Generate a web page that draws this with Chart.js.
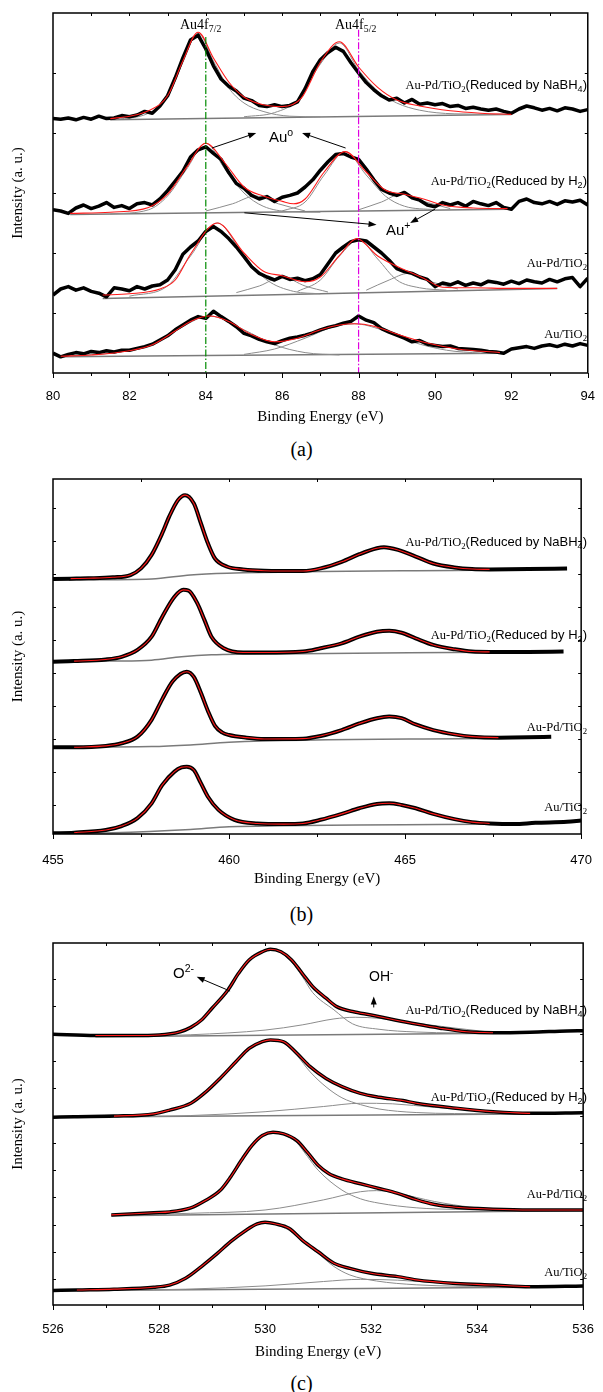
<!DOCTYPE html>
<html lang="en">
<head>
    <meta charset="UTF-8">
    <title>XPS spectra Au 4f, Ti 2p, O 1s</title>
    <script src="https://cdn.jsdelivr.net/npm/chart.js"></script>
    <style>
        body {
            margin: 0;
            background: #fff;
            width: 603px;
            height: 1392px;
            position: relative;
            overflow: hidden;
        }
        .panel { position: absolute; left: 0; width: 603px; }
        .note { position: absolute; white-space: nowrap; color: #000; line-height: 1; }
        .serif { font-family: "Liberation Serif", "DejaVu Serif", serif; }
        .sans { font-family: "Liberation Sans", Arial, sans-serif; }
        .samp { right: 16px; }
        .samp .serif { font-size: 12.5px; }
        .samp .sans { font-size: 13px; }
        sub { font-size: 70%; vertical-align: -0.35em; line-height: 0; }
        sup { font-size: 70%; vertical-align: 0.55em; line-height: 0; }
        .tag { font-size: 20px; width: 603px; left: 0; text-align: center; }
    </style>
</head>
<body>
    <div class="panel" style="top:0;height:430px"><canvas id="chartA"></canvas></div>
    <div class="panel" style="top:466px;height:425px"><canvas id="chartB"></canvas></div>
    <div class="panel" style="top:930px;height:432px"><canvas id="chartC"></canvas></div>

    <!-- panel (a) notes -->
    <div class="note serif" style="left:180px;top:18px;font-size:14px">Au4f<sub>7/2</sub></div>
    <div class="note serif" style="left:335px;top:18px;font-size:14px">Au4f<sub>5/2</sub></div>
    <div class="note sans" style="left:269px;top:129px;font-size:15px">Au<sup>o</sup></div>
    <div class="note sans" style="left:386px;top:222px;font-size:15px">Au<sup>+</sup></div>
    <div class="note samp" style="top:76px"><span class="serif">Au-Pd/TiO<sub>2</sub></span><span class="sans">(Reduced by NaBH<sub>4</sub>)</span></div>
    <div class="note samp" style="top:172px"><span class="serif">Au-Pd/TiO<sub>2</sub></span><span class="sans">(Reduced by H<sub>2</sub>)</span></div>
    <div class="note samp" style="top:254px"><span class="serif">Au-Pd/TiO<sub>2</sub></span></div>
    <div class="note samp" style="top:325px"><span class="serif">Au/TiO<sub>2</sub></span></div>
    <div class="note serif tag" style="top:439px">(a)</div>

    <!-- panel (b) notes -->
    <div class="note samp" style="top:533px"><span class="serif">Au-Pd/TiO<sub>2</sub></span><span class="sans">(Reduced by NaBH<sub>4</sub>)</span></div>
    <div class="note samp" style="top:626px"><span class="serif">Au-Pd/TiO<sub>2</sub></span><span class="sans">(Reduced by H<sub>2</sub>)</span></div>
    <div class="note samp" style="top:718px"><span class="serif">Au-Pd/TiO<sub>2</sub></span></div>
    <div class="note samp" style="top:798px"><span class="serif">Au/TiO<sub>2</sub></span></div>
    <div class="note serif tag" style="top:904px">(b)</div>

    <!-- panel (c) notes -->
    <div class="note sans" style="left:173px;top:965px;font-size:15px">O<sup>2-</sup></div>
    <div class="note sans" style="left:369px;top:969px;font-size:14px">OH<sup>-</sup></div>
    <div class="note samp" style="top:1001px"><span class="serif">Au-Pd/TiO<sub>2</sub></span><span class="sans">(Reduced by NaBH<sub>4</sub>)</span></div>
    <div class="note samp" style="top:1088px"><span class="serif">Au-Pd/TiO<sub>2</sub></span><span class="sans">(Reduced by H<sub>2</sub>)</span></div>
    <div class="note samp" style="top:1185px"><span class="serif">Au-Pd/TiO<sub>2</sub></span></div>
    <div class="note samp" style="top:1263px"><span class="serif">Au/TiO<sub>2</sub></span></div>
    <div class="note serif tag" style="top:1373px">(c)</div>

    <script>
        // ---------- (a) Au 4f : raw spectra on a common energy grid ----------
        const aEnergy = [80.0, 80.2, 80.4, 80.6, 80.8, 81.0, 81.2, 81.4, 81.6, 81.8,
            82.0, 82.2, 82.4, 82.6, 82.8, 83.0, 83.2, 83.4, 83.6, 83.8,
            84.0, 84.2, 84.4, 84.6, 84.8, 85.0, 85.2, 85.4, 85.6, 85.8,
            86.0, 86.2, 86.4, 86.6, 86.8, 87.0, 87.2, 87.4, 87.6, 87.8,
            88.0, 88.2, 88.4, 88.6, 88.8, 89.0, 89.2, 89.4, 89.6, 89.8,
            90.0, 90.2, 90.4, 90.6, 90.8, 91.0, 91.2, 91.4, 91.6, 91.8,
            92.0, 92.2, 92.4, 92.6, 92.8, 93.0, 93.2, 93.4, 93.6, 93.8, 94.0];
        const aNaBH4 = [4.24, 4.23, 4.25, 4.22, 4.26, 4.23, 4.28, 4.24, 4.25, 4.29,
            4.27, 4.30, 4.36, 4.33, 4.45, 4.62, 4.92, 5.25, 5.55, 5.63,
            5.40, 5.12, 4.90, 4.78, 4.70, 4.58, 4.54, 4.46, 4.44, 4.47,
            4.44, 4.46, 4.52, 4.74, 5.02, 5.22, 5.34, 5.43, 5.36, 5.17,
            5.00, 4.84, 4.72, 4.62, 4.55, 4.58, 4.50, 4.56, 4.48, 4.50,
            4.47, 4.49, 4.44, 4.46, 4.41, 4.43, 4.40, 4.38, 4.40, 4.36,
            4.33, 4.40, 4.45, 4.42, 4.38, 4.41, 4.37, 4.42, 4.40, 4.36, 4.39];
        const aH2 = [2.72, 2.70, 2.66, 2.75, 2.80, 2.74, 2.78, 2.84, 2.76, 2.79,
            2.74, 2.82, 2.84, 2.80, 2.90, 3.04, 3.20, 3.36, 3.60, 3.72,
            3.77, 3.66, 3.56, 3.34, 3.16, 3.08, 2.96, 2.90, 2.94, 2.86,
            2.93, 2.96, 3.00, 3.10, 3.22, 3.38, 3.52, 3.64, 3.66, 3.60,
            3.56, 3.40, 3.22, 3.06, 3.00, 2.96, 3.01, 2.92, 2.88, 2.80,
            2.77, 2.84, 2.80, 2.84, 2.78, 2.86, 2.82, 2.79, 2.84, 2.76,
            2.73, 2.86, 2.90, 2.84, 2.82, 2.86, 2.81, 2.87, 2.85, 2.88, 2.80];
        const aAuPd = [1.30, 1.40, 1.44, 1.38, 1.42, 1.36, 1.33, 1.27, 1.42, 1.40,
            1.37, 1.44, 1.40, 1.45, 1.47, 1.55, 1.72, 1.98, 2.10, 2.20,
            2.36, 2.44, 2.36, 2.24, 2.10, 1.94, 1.77, 1.66, 1.60, 1.55,
            1.61, 1.56, 1.58, 1.54, 1.57, 1.64, 1.82, 2.00, 2.10, 2.19,
            2.22, 2.20, 2.10, 2.00, 1.88, 1.74, 1.69, 1.66, 1.60, 1.56,
            1.44, 1.50, 1.47, 1.52, 1.46, 1.50, 1.47, 1.53, 1.51, 1.48,
            1.53, 1.49, 1.55, 1.52, 1.50, 1.56, 1.52, 1.57, 1.59, 1.44, 1.58];
        const aAu = [0.33, 0.27, 0.31, 0.34, 0.32, 0.36, 0.34, 0.37, 0.35, 0.38,
            0.38, 0.41, 0.44, 0.48, 0.55, 0.62, 0.72, 0.80, 0.88, 0.94,
            0.91, 1.03, 0.94, 0.86, 0.77, 0.66, 0.62, 0.56, 0.52, 0.49,
            0.54, 0.58, 0.60, 0.63, 0.67, 0.72, 0.76, 0.79, 0.83, 0.86,
            0.95, 0.88, 0.84, 0.74, 0.68, 0.63, 0.58, 0.52, 0.54, 0.48,
            0.46, 0.44, 0.45, 0.41, 0.40, 0.39, 0.38, 0.36, 0.35, 0.33,
            0.40, 0.42, 0.44, 0.41, 0.45, 0.47, 0.44, 0.48, 0.45, 0.49, 0.46];

        // (a) fitted envelopes [eV, intensity]
        const aFitNaBH4 = [[81.5, 4.24], [82.0, 4.28], [82.5, 4.37], [83.0, 4.62], [83.4, 5.20], [83.8, 5.68],
            [84.2, 5.25], [84.6, 4.85], [85.0, 4.60], [85.5, 4.47], [86.0, 4.44], [86.5, 4.58], [87.0, 5.18],
            [87.5, 5.52], [88.0, 5.10], [88.5, 4.76], [89.0, 4.55], [89.6, 4.45], [90.4, 4.37], [91.2, 4.33], [92.0, 4.31]];
        const aFitH2 = [[80.45, 2.66], [81.5, 2.68], [82.5, 2.76], [83.0, 2.98], [83.5, 3.43], [84.0, 3.83],
            [84.5, 3.50], [85.0, 3.10], [85.5, 2.95], [86.0, 2.86], [86.3, 2.82], [86.6, 2.90], [87.1, 3.35],
            [87.65, 3.69], [88.2, 3.35], [88.7, 3.05], [89.2, 2.98], [89.7, 2.90], [90.2, 2.80], [91.0, 2.75], [91.9, 2.74]];
        const aFitAuPd = [[81.3, 1.30], [82.0, 1.32], [82.8, 1.40], [83.2, 1.55], [83.6, 1.98], [84.3, 2.50],
            [85.0, 2.00], [85.5, 1.70], [86.0, 1.62], [86.6, 1.52], [87.0, 1.60], [87.5, 1.96], [87.95, 2.24],
            [88.5, 1.95], [89.2, 1.72], [89.7, 1.58], [90.2, 1.43], [91.0, 1.42], [92.0, 1.41], [93.2, 1.41]];
        const aFitAu = [[80.2, 0.28], [81.0, 0.30], [82.0, 0.37], [82.6, 0.47], [83.2, 0.70], [83.6, 0.86],
            [84.1, 0.95], [84.6, 0.86], [85.2, 0.64], [85.8, 0.52], [86.4, 0.58], [87.0, 0.72], [87.5, 0.80],
            [87.9, 0.82], [88.4, 0.78], [89.0, 0.65], [89.8, 0.50], [90.6, 0.40], [91.7, 0.34]];

        // (a) component peaks
        const aCompNaBH4 = [
            [[81.5, 4.22], [82.5, 4.33], [83.0, 4.60], [83.4, 5.18], [83.8, 5.66], [84.2, 5.20], [84.6, 4.75],
             [85.0, 4.50], [85.5, 4.36], [86.2, 4.28], [87.0, 4.27]],
            [[85.0, 4.27], [85.8, 4.34], [86.4, 4.55], [87.0, 5.15], [87.5, 5.50], [88.0, 5.05], [88.5, 4.70],
             [89.0, 4.50], [89.6, 4.38], [90.5, 4.32], [92.0, 4.31]]
        ];
        const aCompH2 = [
            [[81.5, 2.65], [82.5, 2.72], [83.0, 2.95], [83.5, 3.40], [84.0, 3.83], [84.5, 3.40], [85.0, 3.00],
             [85.5, 2.78], [86.2, 2.69], [87.0, 2.68]],
            [[84.0, 2.70], [84.7, 2.82], [85.3, 2.95], [85.9, 2.82], [86.6, 2.70]],
            [[86.0, 2.70], [86.6, 2.85], [87.1, 3.30], [87.65, 3.69], [88.2, 3.30], [88.7, 2.95], [89.2, 2.78], [90.0, 2.72]],
            [[88.0, 2.72], [88.6, 2.85], [89.1, 2.98], [89.7, 2.86], [90.4, 2.74]]
        ];
        const aCompAuPd = [
            [[82.0, 1.28], [83.0, 1.45], [83.6, 1.95], [84.3, 2.50], [85.0, 1.95], [85.6, 1.55], [86.3, 1.36], [87.0, 1.32]],
            [[84.8, 1.34], [85.4, 1.45], [86.0, 1.60], [86.6, 1.45], [87.2, 1.35]],
            [[86.4, 1.36], [87.0, 1.55], [87.5, 1.95], [88.0, 2.22], [88.5, 1.90], [89.0, 1.55], [89.6, 1.42], [90.3, 1.38]],
            [[88.2, 1.38], [88.8, 1.55], [89.3, 1.66], [89.9, 1.52], [90.6, 1.40]]
        ];
        const aCompAu = [
            [[80.5, 0.29], [81.5, 0.33], [82.5, 0.45], [83.2, 0.70], [84.1, 0.95], [85.0, 0.72], [85.8, 0.47], [86.6, 0.34], [87.5, 0.30]],
            [[85.0, 0.31], [85.8, 0.40], [86.6, 0.58], [87.3, 0.76], [87.9, 0.82], [88.6, 0.72], [89.4, 0.52], [90.3, 0.38], [91.2, 0.33]]
        ];
        const aBaseNaBH4 = [[81.5, 4.22], [92.0, 4.31]];
        const aBaseH2 = [[80.45, 2.64], [91.9, 2.73]];
        const aBaseAuPd = [[81.3, 1.24], [93.2, 1.41]];
        const aBaseAu = [[80.2, 0.27], [91.7, 0.33]];
        const aMarkerE = [84, 88];
        const aArrows = [[84.16, 3.75, 85.32, 4.0], [87.66, 3.75, 86.52, 4.0], [85.01, 2.67, 88.47, 2.47], [90.0, 2.73, 89.35, 2.5]];

        // ---------- (b) Ti 2p [eV, intensity] ----------
        const bNaBH4 = [[455.0, 7.85], [455.5, 7.86], [456.0, 7.87], [456.7, 7.90], [457.2, 7.97], [457.5, 8.17],
            [457.8, 8.58], [458.1, 9.23], [458.3, 9.74], [458.55, 10.24], [458.75, 10.39], [459.0, 10.14],
            [459.2, 9.54], [459.4, 8.93], [459.6, 8.47], [459.95, 8.22], [460.4, 8.14], [461.0, 8.10],
            [462.1, 8.09], [462.6, 8.17], [463.2, 8.37], [463.7, 8.60], [464.2, 8.78], [464.4, 8.81],
            [464.8, 8.73], [465.3, 8.53], [465.8, 8.32], [466.4, 8.20], [466.9, 8.15], [467.4, 8.14],
            [468.5, 8.15], [469.6, 8.17]];
        const bH2 = [[455.0, 5.34], [455.6, 5.36], [456.5, 5.41], [456.95, 5.49], [457.4, 5.70], [457.8, 6.10],
            [458.1, 6.70], [458.45, 7.31], [458.7, 7.52], [458.85, 7.50], [459.1, 7.11], [459.3, 6.61],
            [459.5, 6.10], [459.85, 5.75], [460.4, 5.62], [461.0, 5.62], [462.1, 5.65], [462.6, 5.75],
            [463.2, 5.90], [463.7, 6.10], [464.2, 6.25], [464.55, 6.28], [464.9, 6.22], [465.3, 6.05],
            [465.8, 5.85], [466.4, 5.72], [466.9, 5.65], [467.4, 5.64], [468.5, 5.64], [469.5, 5.65]];
        const bAuPd = [[455.0, 2.75], [455.6, 2.75], [456.5, 2.79], [456.95, 2.87], [457.4, 3.07], [457.8, 3.58],
            [458.1, 4.20], [458.4, 4.75], [458.8, 5.04], [459.0, 4.88], [459.2, 4.40], [459.4, 3.85],
            [459.6, 3.40], [459.8, 3.20], [460.0, 3.12], [460.5, 3.04], [461.0, 3.00], [462.1, 3.01], [462.6, 3.09],
            [463.2, 3.27], [463.7, 3.47], [464.2, 3.63], [464.55, 3.68], [464.9, 3.63], [465.3, 3.44],
            [465.8, 3.27], [466.4, 3.14], [466.9, 3.07], [467.65, 3.04], [468.5, 3.05], [469.15, 3.07]];
        const bAu = [[455.0, 0.14], [455.6, 0.16], [456.5, 0.24], [456.95, 0.36], [457.4, 0.60], [457.8, 1.05],
            [458.1, 1.60], [458.45, 2.01], [458.65, 2.14], [458.8, 2.16], [459.0, 2.06], [459.2, 1.66],
            [459.4, 1.25], [459.7, 0.85], [460.15, 0.55], [460.8, 0.44], [461.55, 0.42], [462.1, 0.44],
            [462.6, 0.55], [463.2, 0.73], [463.7, 0.90], [464.2, 1.03], [464.55, 1.05], [464.9, 1.00],
            [465.3, 0.90], [465.8, 0.73], [466.4, 0.57], [466.9, 0.48], [467.4, 0.44], [468.1, 0.42],
            [468.7, 0.46], [469.6, 0.49], [470.0, 0.53]];
        const bBaseNaBH4 = [[455.45, 7.82], [457.8, 7.85], [458.9, 7.97], [459.95, 8.02], [467.4, 8.12]];
        const bBaseH2 = [[455.0, 5.34], [456.7, 5.36], [457.8, 5.39], [458.65, 5.49], [459.5, 5.55], [460.5, 5.57], [467.4, 5.63]];
        const bBaseAuPd = [[455.0, 2.75], [457.8, 2.77], [458.9, 2.82], [460.0, 2.90], [467.65, 3.02]];
        const bBaseAu = [[455.0, 0.14], [456.7, 0.16], [458.9, 0.26], [460.0, 0.34], [468.1, 0.42]];
        const bFitRange = [[455.45, 467.4], [455.6, 467.4], [455.6, 467.65], [455.5, 467.4]];

        // ---------- (c) O 1s [eV, intensity] ----------
        const cNaBH4 = [[526.0, 9.98], [526.8, 9.93], [527.5, 9.93], [528.0, 9.95], [528.4, 10.07], [528.6, 10.23],
            [528.8, 10.50], [529.0, 10.93], [529.3, 11.60], [529.5, 12.21], [529.7, 12.70], [529.95, 13.00],
            [530.1, 13.09], [530.3, 13.00], [530.5, 12.70], [530.7, 12.21], [530.9, 11.72], [531.15, 11.30],
            [531.35, 10.99], [531.65, 10.81], [532.0, 10.68], [532.45, 10.50], [532.85, 10.35], [533.3, 10.20],
            [533.8, 10.07], [534.3, 10.03], [535.0, 10.05], [535.7, 10.10], [536.0, 10.11]];
        const cH2 = [[526.0, 6.94], [526.4, 6.96], [527.15, 6.98], [527.9, 7.06], [528.2, 7.20], [528.6, 7.45],
            [528.85, 7.81], [529.15, 8.36], [529.45, 8.97], [529.7, 9.46], [529.95, 9.71], [530.1, 9.77],
            [530.35, 9.70], [530.6, 9.28], [530.85, 8.79], [531.15, 8.36], [531.45, 8.06], [531.8, 7.81],
            [532.15, 7.67], [532.6, 7.55], [532.85, 7.45], [533.6, 7.27], [534.3, 7.14], [535.0, 7.08], [536.0, 7.10]];
        const cAuPd = [[527.1, 3.36], [527.9, 3.44], [528.2, 3.47], [528.6, 3.62], [528.85, 3.86], [529.15, 4.25],
            [529.35, 4.75], [529.55, 5.35], [529.75, 5.90], [529.95, 6.27], [530.15, 6.39], [530.35, 6.33],
            [530.6, 6.08], [530.8, 5.65], [531.0, 5.18], [531.2, 4.88], [531.45, 4.68], [531.8, 4.50],
            [532.15, 4.33], [532.5, 4.15], [532.85, 3.92], [533.2, 3.74], [533.6, 3.64], [534.3, 3.57],
            [535.0, 3.54], [536.0, 3.54]];
        const cAu = [[526.0, 0.59], [526.45, 0.61], [527.15, 0.64], [527.9, 0.71], [528.2, 0.79], [528.5, 1.04],
            [528.8, 1.47], [529.1, 1.95], [529.35, 2.38], [529.65, 2.81], [529.85, 3.03], [530.0, 3.09],
            [530.2, 3.03], [530.45, 2.87], [530.7, 2.44], [531.0, 2.01], [531.3, 1.59], [531.6, 1.40],
            [532.0, 1.22], [532.5, 1.10], [532.85, 0.98], [533.6, 0.85], [534.3, 0.79], [535.0, 0.73], [536.0, 0.76]];
        const cCompNaBH4 = [
            [[526.8, 9.90], [528.0, 9.95], [528.4, 10.07], [528.6, 10.22], [528.8, 10.48], [529.0, 10.90], [529.3, 11.57],
             [529.5, 12.18], [529.7, 12.67], [529.95, 12.98], [530.1, 13.06], [530.3, 12.96], [530.5, 12.62], [530.7, 12.10],
             [530.9, 11.50], [531.3, 10.87], [531.65, 10.36], [532.15, 10.16], [532.85, 10.06], [534.4, 10.01]],
            [[526.8, 9.89], [528.6, 9.96], [530.0, 10.13], [530.7, 10.32], [531.3, 10.54], [531.7, 10.60], [532.15, 10.56],
             [532.85, 10.38], [533.6, 10.20], [534.4, 10.02]]
        ];
        const cCompH2 = [
            [[527.1, 6.96], [527.9, 7.05], [528.2, 7.19], [528.6, 7.44], [528.85, 7.80], [529.15, 8.35], [529.45, 8.96],
             [529.7, 9.45], [529.95, 9.70], [530.1, 9.76], [530.35, 9.66], [530.6, 9.20], [530.85, 8.60], [531.15, 8.05],
             [531.45, 7.65], [531.8, 7.40], [532.15, 7.24], [532.85, 7.11], [534.3, 7.06]],
            [[527.1, 6.96], [528.6, 7.00], [530.0, 7.14], [531.1, 7.33], [531.8, 7.45], [532.4, 7.43], [533.2, 7.30],
             [534.3, 7.14], [534.95, 7.07]]
        ];
        const cCompAuPd = [
            [[527.1, 3.35], [528.6, 3.60], [528.85, 3.85], [529.15, 4.24], [529.35, 4.74], [529.55, 5.34], [529.75, 5.89],
             [529.95, 6.26], [530.15, 6.40], [530.35, 6.30], [530.6, 6.00], [530.8, 5.50], [531.0, 5.00], [531.45, 4.27],
             [531.8, 3.95], [532.15, 3.79], [532.85, 3.62], [533.6, 3.56], [534.3, 3.54]],
            [[527.1, 3.34], [528.6, 3.42], [530.0, 3.54], [531.1, 3.91], [531.8, 4.21], [532.1, 4.25], [532.5, 4.15],
             [533.2, 3.85], [533.9, 3.64], [534.6, 3.55], [536.0, 3.52]]
        ];
        const cCompAu = [
            [[526.45, 0.59], [527.9, 0.70], [528.2, 0.78], [528.5, 1.03], [528.8, 1.46], [529.1, 1.94], [529.35, 2.37],
             [529.65, 2.80], [529.85, 3.02], [530.0, 3.08], [530.2, 3.00], [530.45, 2.80], [530.7, 2.38], [531.0, 1.95],
             [531.3, 1.47], [531.6, 1.16], [532.1, 0.94], [532.85, 0.80], [533.6, 0.75], [534.3, 0.73], [535.0, 0.72]],
            [[526.45, 0.59], [528.5, 0.64], [530.0, 0.76], [531.1, 0.92], [531.8, 1.00], [532.5, 0.97], [533.2, 0.88],
             [534.3, 0.78], [535.0, 0.73]]
        ];
        const cBaseNaBH4 = [[526.8, 9.89], [534.4, 10.01]];
        const cBaseH2 = [[527.1, 6.96], [534.95, 7.06]];
        const cBaseAuPd = [[527.1, 3.33], [536.0, 3.52]];
        const cBaseAu = [[526.45, 0.59], [535.0, 0.71]];
        const cFitRange = [[526.8, 534.4], [527.1, 535.0], [527.1, 536.0], [526.45, 535.0]];
        const cArrows = [[529.34, 11.56, 528.71, 12.08], [532.05, 10.96, 532.05, 11.36]];

        // ---------- helpers ----------
        const xy = pairs => pairs.map(p => ({x: p[0], y: p[1]}));
        const zipXY = (xs, ys) => xs.map((x, i) => ({x: x, y: ys[i]}));
        const within = (pairs, r) => pairs.filter(p => p[0] >= r[0] - 1e-9 && p[0] <= r[1] + 1e-9);

        function rawLine(data, w, smooth) {
            return {data: data, borderColor: '#000', borderWidth: w, pointRadius: 0, order: 3,
                borderJoinStyle: 'round', cubicInterpolationMode: smooth ? 'monotone' : 'default', tension: 0};
        }
        function fitLine(data) {
            return {data: data, borderColor: '#ff1a1a', borderWidth: 1.1, pointRadius: 0, order: 1,
                cubicInterpolationMode: 'monotone'};
        }
        function compLine(data) {
            return {data: data, borderColor: '#8c8c8c', borderWidth: 1, pointRadius: 0, order: 4,
                cubicInterpolationMode: 'monotone'};
        }
        function baseLine(data) {
            return {data: data, borderColor: '#7a7a7a', borderWidth: 1.5, pointRadius: 0, order: 4,
                cubicInterpolationMode: 'monotone'};
        }

        function line(ctx, x1, y1, x2, y2) {
            ctx.beginPath(); ctx.moveTo(x1, y1); ctx.lineTo(x2, y2); ctx.stroke();
        }

        // frame with inward ticks, dash-dot markers and arrows
        const decorations = {
            id: 'decorations',
            afterDatasetsDraw(chart, args, opts) {
                const {ctx, chartArea: a, scales: {x, y}} = chart;
                ctx.save();
                (opts.markers || []).forEach(m => {
                    ctx.strokeStyle = m.color; ctx.lineWidth = 1.2;
                    ctx.setLineDash([7, 2, 1.5, 2]);
                    const px = x.getPixelForValue(m.x);
                    line(ctx, px, y.getPixelForValue(m.top), px, a.bottom);
                });
                ctx.setLineDash([]);
                ctx.strokeStyle = '#000'; ctx.fillStyle = '#000'; ctx.lineWidth = 1;
                (opts.arrows || []).forEach(r => {
                    const x1 = x.getPixelForValue(r[0]), y1 = y.getPixelForValue(r[1]);
                    const x2 = x.getPixelForValue(r[2]), y2 = y.getPixelForValue(r[3]);
                    const ang = Math.atan2(y2 - y1, x2 - x1);
                    line(ctx, x1, y1, x2 - 5 * Math.cos(ang), y2 - 5 * Math.sin(ang));
                    ctx.beginPath();
                    ctx.moveTo(x2, y2);
                    ctx.lineTo(x2 - 8 * Math.cos(ang) + 3 * Math.sin(ang), y2 - 8 * Math.sin(ang) - 3 * Math.cos(ang));
                    ctx.lineTo(x2 - 8 * Math.cos(ang) - 3 * Math.sin(ang), y2 - 8 * Math.sin(ang) + 3 * Math.cos(ang));
                    ctx.closePath(); ctx.fill();
                });
                ctx.lineWidth = 1.5;
                ctx.strokeRect(a.left, a.top, a.right - a.left, a.bottom - a.top);
                ctx.lineWidth = 1;
                x.ticks.forEach(t => {
                    const px = Math.round(x.getPixelForValue(t.value)) + 0.5;
                    line(ctx, px, a.bottom, px, a.bottom + (t.label !== '' ? 5 : 3));
                    if (t.value > x.min && t.value < x.max) line(ctx, px, a.top, px, a.top + 3);
                });
                y.ticks.forEach(t => {
                    if (t.value <= y.min || t.value >= y.max) return;
                    const py = Math.round(y.getPixelForValue(t.value)) + 0.5;
                    line(ctx, a.left, py, a.left + 3, py);
                    line(ctx, a.right, py, a.right - 3, py);
                });
                ctx.restore();
            }
        };

        function makeChart(id, p) {
            return new Chart(document.getElementById(id), {
                type: 'line',
                data: {datasets: p.datasets},
                options: {
                    responsive: true,
                    maintainAspectRatio: false,
                    animation: false,
                    layout: {padding: {top: 13, right: 11, left: 0, bottom: 0}},
                    plugins: {legend: {display: false}, tooltip: {enabled: false},
                        decorations: {markers: p.markers, arrows: p.arrows}},
                    scales: {
                        x: {
                            type: 'linear', min: p.xmin, max: p.xmax,
                            grid: {display: false}, border: {display: false},
                            afterFit: s => { s.height = 57; },
                            ticks: {
                                stepSize: p.xstep, autoSkip: false, maxRotation: 0, padding: p.tickPad,
                                color: '#000', font: {family: 'Liberation Sans', size: 13},
                                callback: v => (Math.abs(v / p.labelStep - Math.round(v / p.labelStep)) < 1e-6 ? v : '')
                            },
                            title: {display: true, text: 'Binding Energy (eV)', color: '#000',
                                font: {family: 'Liberation Serif', size: 15}, padding: {top: 0, bottom: p.titlePad}}
                        },
                        y: {
                            type: 'linear', min: p.ymin, max: p.ymax,
                            grid: {display: false}, border: {display: false},
                            afterFit: s => { s.width = 53; },
                            ticks: {display: false, stepSize: 1},
                            title: {display: true, text: 'Intensity (a. u.)', color: '#000',
                                font: {family: 'Liberation Serif', size: 15}, padding: {top: 9, bottom: 0}}
                        }
                    }
                },
                plugins: [decorations]
            });
        }

        // ---------- panel (a) ----------
        const aSets = [];
        [aNaBH4, aH2, aAuPd, aAu].forEach(v => aSets.push(rawLine(zipXY(aEnergy, v), 3.5, false)));
        [aFitNaBH4, aFitH2, aFitAuPd, aFitAu].forEach(f => aSets.push(fitLine(xy(f))));
        [aCompNaBH4, aCompH2, aCompAuPd, aCompAu].forEach(g => g.forEach(c => aSets.push(compLine(xy(c)))));
        [aBaseNaBH4, aBaseH2, aBaseAuPd, aBaseAu].forEach(b => aSets.push(baseLine(xy(b))));
        makeChart('chartA', {
            datasets: aSets, xmin: 80, xmax: 94, xstep: 1, labelStep: 2, ymin: 0, ymax: 6,
            tickPad: 8, titlePad: 4,
            markers: [{x: aMarkerE[0], top: 5.6, color: '#008a00'}, {x: aMarkerE[1], top: 5.72, color: '#e000e0'}],
            arrows: aArrows
        });

        // ---------- panel (b) ----------
        const bSets = [];
        const bSpectra = [bNaBH4, bH2, bAuPd, bAu];
        bSpectra.forEach(s => bSets.push(rawLine(xy(s), 4, true)));
        bSpectra.forEach((s, i) => bSets.push(fitLine(xy(within(s, bFitRange[i])))));
        [bBaseNaBH4, bBaseH2, bBaseAuPd, bBaseAu].forEach(b => bSets.push(baseLine(xy(b))));
        makeChart('chartB', {
            datasets: bSets, xmin: 455, xmax: 470, xstep: 2.5, labelStep: 5, ymin: 0.12, ymax: 10.88,
            tickPad: 11, titlePad: 3
        });

        // ---------- panel (c) ----------
        const cSets = [];
        const cSpectra = [cNaBH4, cH2, cAuPd, cAu];
        cSpectra.forEach(s => cSets.push(rawLine(xy(s), 3.5, true)));
        cSpectra.forEach((s, i) => cSets.push(fitLine(xy(within(s, cFitRange[i])))));
        [cCompNaBH4, cCompH2, cCompAuPd, cCompAu].forEach(g => g.forEach(c => cSets.push(compLine(xy(c)))));
        [cBaseNaBH4, cBaseH2, cBaseAuPd, cBaseAu].forEach(b => cSets.push(baseLine(xy(b))));
        makeChart('chartC', {
            datasets: cSets, xmin: 526, xmax: 536, xstep: 1, labelStep: 2, ymin: 0.06, ymax: 13.32,
            tickPad: 9, titlePad: 1, arrows: cArrows
        });
    </script>
</body>
</html>
